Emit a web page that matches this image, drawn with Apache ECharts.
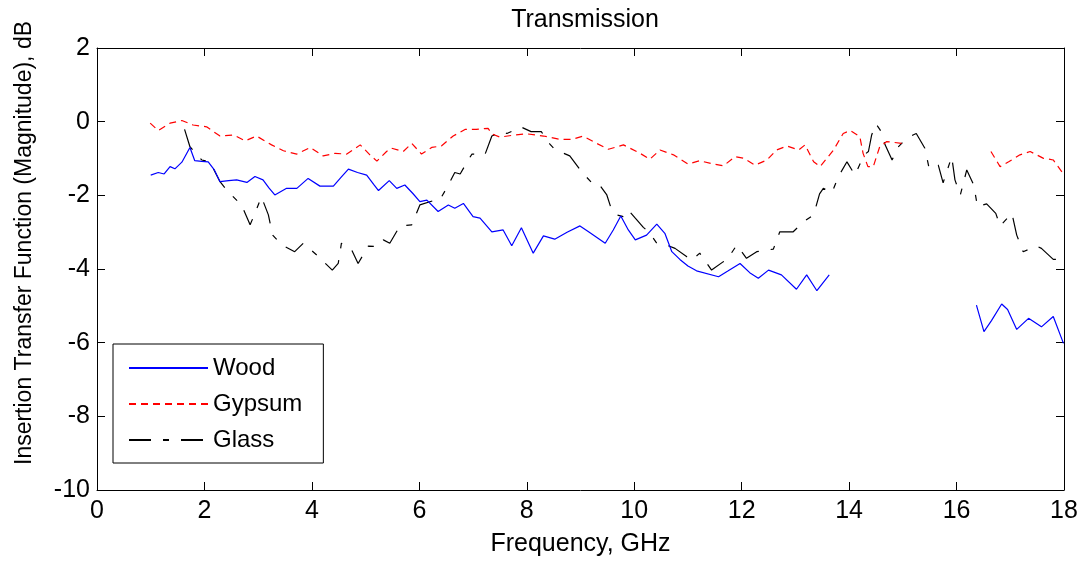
<!DOCTYPE html>
<html>
<head>
<meta charset="utf-8">
<script src="https://cdn.jsdelivr.net/npm/echarts@6/dist/echarts.min.js"></script>
<style>
  html, body { margin: 0; padding: 0; background: #fff; }
  #chart { width: 1088px; height: 567px; }
</style>
</head>
<body>
<div id="chart"></div>
<script>
// Insertion transfer function magnitude (dB) vs frequency (GHz)
const xTicks = [0, 2, 4, 6, 8, 10, 12, 14, 16, 18];
const yTicks = [-10, -8, -6, -4, -2, 0, 2];

const woodPoints = [
  [1.00,-1.45],[1.14,-1.38],[1.25,-1.42],[1.36,-1.22],[1.45,-1.28],[1.58,-1.10],[1.73,-0.70],[1.82,-1.06],
  [1.95,-1.08],[2.07,-1.09],[2.18,-1.30],[2.29,-1.63],[2.45,-1.60],[2.60,-1.58],[2.79,-1.65],[2.94,-1.49],
  [3.09,-1.58],[3.20,-1.80],[3.31,-1.99],[3.53,-1.81],[3.72,-1.81],[3.93,-1.54],[4.15,-1.75],[4.40,-1.75],
  [4.55,-1.50],[4.68,-1.29],[4.85,-1.38],[5.02,-1.45],[5.15,-1.70],[5.24,-1.87],[5.44,-1.60],[5.58,-1.81],
  [5.73,-1.72],[5.88,-1.95],[6.01,-2.17],[6.14,-2.13],[6.35,-2.44],[6.54,-2.26],[6.66,-2.35],[6.82,-2.22],
  [7.00,-2.58],[7.13,-2.62],[7.35,-2.99],[7.56,-2.94],[7.72,-3.37],[7.90,-2.88],[8.12,-3.57],[8.31,-3.10],
  [8.52,-3.19],[8.75,-3.00],[8.99,-2.83],[9.15,-2.99],[9.46,-3.30],[9.61,-2.94],[9.75,-2.56],[9.89,-2.94],
  [10.02,-3.21],[10.23,-3.08],[10.42,-2.78],[10.57,-3.03],[10.70,-3.53],[10.85,-3.74],[11.00,-3.92],[11.16,-4.05],
  [11.57,-4.21],[11.75,-4.05],[11.97,-3.85],[12.15,-4.10],[12.31,-4.25],[12.50,-4.03],[12.74,-4.16],[13.02,-4.55],
  [13.21,-4.16],[13.40,-4.59],[13.63,-4.16],
  [15.00,'-'],
  [16.37,-4.98],[16.51,-5.70],[16.65,-5.40],[16.84,-4.95],[16.95,-5.10],[17.12,-5.64],[17.34,-5.34],[17.58,-5.57],
  [17.80,-5.29],[17.99,-6.02]
];

const gypsumPoints = [
  [0.99,-0.04],[1.14,-0.24],[1.36,-0.04],[1.58,0.03],[1.79,-0.09],[2.04,-0.14],[2.29,-0.39],[2.54,-0.36],
  [2.76,-0.52],[2.97,-0.39],[3.25,-0.63],[3.47,-0.79],[3.72,-0.88],[3.97,-0.70],[4.21,-0.93],[4.43,-0.86],
  [4.65,-0.88],[4.90,-0.63],[5.08,-0.90],[5.21,-1.07],[5.39,-0.81],[5.48,-0.72],[5.70,-0.81],[5.86,-0.59],
  [6.04,-0.88],[6.23,-0.70],[6.41,-0.66],[6.63,-0.39],[6.85,-0.21],[7.06,-0.21],[7.28,-0.18],[7.35,-0.33],
  [7.50,-0.42],[7.78,-0.36],[8.00,-0.33],[8.31,-0.39],[8.62,-0.48],[8.84,-0.48],[9.05,-0.39],[9.30,-0.59],
  [9.52,-0.75],[9.80,-0.63],[10.11,-0.86],[10.29,-1.02],[10.48,-0.77],[10.73,-0.90],[11.00,-1.15],[11.22,-1.06],
  [11.47,-1.15],[11.66,-1.20],[11.88,-0.95],[12.03,-0.99],[12.25,-1.18],[12.47,-1.04],[12.65,-0.77],[12.84,-0.66],
  [13.06,-0.77],[13.18,-0.63],[13.34,-1.09],[13.46,-1.22],[13.71,-0.77],[13.89,-0.32],[14.02,-0.24],[14.20,-0.41],
  [14.26,-0.86],[14.35,-1.22],[14.45,-1.22],[14.57,-0.68],[14.70,-0.54],[14.98,-0.59],
  [15.80,'-'],
  [16.64,-0.81],[16.81,-1.22],[16.97,-1.09],[17.18,-0.90],[17.37,-0.81],[17.61,-0.99],[17.80,-1.04],[17.99,-1.42]
];

const glassPoints = [
  [1.63,-0.21],[1.73,-0.68],[1.95,-1.04],[2.10,-1.09],[2.29,-1.63],[2.44,-1.90],[2.69,-2.26],[2.85,-2.80],
  [2.94,-2.49],[3.06,-2.04],[3.19,-2.53],[3.27,-3.08],[3.44,-3.35],[3.68,-3.53],[3.84,-3.30],[4.09,-3.62],
  [4.38,-4.03],[4.49,-3.85],[4.55,-3.30],[4.74,-3.48],[4.86,-3.85],[5.05,-3.38],[5.21,-3.39],[5.33,-3.21],
  [5.45,-3.30],[5.64,-2.83],[5.86,-2.80],[6.01,-2.26],[6.29,-2.13],[6.38,-2.13],[6.54,-1.72],[6.66,-1.38],
  [6.76,-1.42],[6.91,-1.04],[6.98,-0.88],[7.22,-0.90],[7.35,-0.39],[7.53,-0.27],[7.63,-0.32],[7.90,-0.15],
  [8.08,-0.27],[8.27,-0.27],[8.43,-0.61],[8.52,-0.75],[8.80,-0.93],[9.02,-1.36],[9.21,-1.66],[9.33,-1.67],
  [9.49,-1.99],[9.58,-2.40],[9.67,-2.53],[9.80,-2.58],[9.89,-2.40],[10.02,-2.62],[10.17,-2.87],[10.28,-3.01],
  [10.42,-3.30],[10.60,-3.35],[10.76,-3.44],[10.98,-3.67],[11.07,-3.76],[11.22,-3.57],[11.44,-4.03],[11.66,-3.80],
  [11.72,-3.76],[11.91,-3.35],[12.09,-3.71],[12.28,-3.53],[12.59,-3.46],[12.71,-2.99],[12.96,-2.99],[13.15,-2.72],
  [13.34,-2.53],[13.45,-1.96],[13.52,-1.81],[13.68,-1.93],[13.80,-1.49],[13.96,-1.09],[14.11,-1.45],[14.28,-0.90],
  [14.36,-0.81],[14.42,-0.36],[14.50,-0.06],[14.58,-0.23],[14.67,-0.63],[14.80,-1.04],[14.92,-0.68],[15.01,-0.54],
  [15.19,-0.36],[15.25,-0.32],[15.41,-0.72],[15.49,-1.27],[15.66,-1.18],[15.75,-1.66],[15.91,-0.95],[15.97,-1.58],
  [16.07,-1.99],[16.19,-1.31],[16.32,-1.72],[16.39,-2.31],[16.56,-2.23],[16.73,-2.49],[16.81,-2.83],[17.03,-2.49],
  [17.12,-3.08],[17.24,-3.53],[17.49,-3.38],[17.58,-3.44],[17.80,-3.74],[17.93,-3.74],[18.00,-3.57]
];

const FONT = 'Liberation Sans, Arial, Helvetica, sans-serif';

const chart = echarts.init(document.getElementById('chart'), null, { renderer: 'canvas' });

const xMin = xTicks[0], xMax = xTicks[xTicks.length - 1], xStep = xTicks[1] - xTicks[0];
const yMin = yTicks[0], yMax = yTicks[yTicks.length - 1], yStep = yTicks[1] - yTicks[0];

const boxAxisLine = { show: true, onZero: false, lineStyle: { color: '#000', width: 1 } };
const innerTicks = { show: true, inside: true, length: 8, lineStyle: { color: '#000', width: 1 } };

chart.setOption({
  backgroundColor: '#fff',
  animation: false,
  title: {
    text: 'Transmission',
    left: 580,
    textAlign: 'center',
    top: 3,
    textStyle: { fontFamily: FONT, fontSize: 25, fontWeight: 'normal', color: '#000' }
  },
  grid: { left: 97, right: 24, top: 48, bottom: 77, containLabel: false },
  legend: {
    orient: 'vertical',
    left: 113,
    top: 344,
    backgroundColor: '#fff',
    borderColor: '#000',
    borderWidth: 1,
    borderRadius: 0,
    padding: [12, 21, 11, 15],
    itemWidth: 79,
    itemHeight: 20,
    itemGap: 12,
    itemTextGap: 8,
    itemStyle: { opacity: 0 },
    textStyle: { fontFamily: FONT, fontSize: 24, color: '#000', lineHeight: 20 },
    data: ['Wood', 'Gypsum', 'Glass']
  },
  xAxis: [
    {
      type: 'value',
      min: xMin, max: xMax, interval: xStep,
      name: 'Frequency, GHz',
      nameLocation: 'middle',
      nameGap: 42,
      nameTextStyle: { fontFamily: FONT, fontSize: 25, color: '#000' },
      axisLine: boxAxisLine,
      axisTick: innerTicks,
      axisLabel: { margin: 9, fontFamily: FONT, fontSize: 25, color: '#000' },
      splitLine: { show: false }
    },
    {
      type: 'value',
      position: 'top',
      min: xMin, max: xMax, interval: xStep,
      axisLine: boxAxisLine,
      axisTick: innerTicks,
      axisLabel: { show: false },
      splitLine: { show: false }
    }
  ],
  yAxis: [
    {
      type: 'value',
      min: yMin, max: yMax, interval: yStep,
      name: 'Insertion Transfer Function (Magnitude), dB',
      nameLocation: 'middle',
      nameGap: 61,
      nameTextStyle: { fontFamily: FONT, fontSize: 23, color: '#000', padding: [0, 0, 0, 52] },
      axisLine: boxAxisLine,
      axisTick: innerTicks,
      axisLabel: { margin: 7, fontFamily: FONT, fontSize: 25, color: '#000' },
      splitLine: { show: false }
    },
    {
      type: 'value',
      position: 'right',
      min: yMin, max: yMax, interval: yStep,
      axisLine: boxAxisLine,
      axisTick: innerTicks,
      axisLabel: { show: false },
      splitLine: { show: false }
    }
  ],
  series: [
    {
      name: 'Wood',
      type: 'line',
      data: woodPoints,
      symbol: 'none',
      connectNulls: false,
      lineStyle: { color: '#0000ff', width: 1.2, type: 'solid' },
      itemStyle: { color: '#0000ff' },
      z: 3
    },
    {
      name: 'Gypsum',
      type: 'line',
      data: gypsumPoints,
      symbol: 'none',
      connectNulls: false,
      lineStyle: { color: '#ff0000', width: 1.2, type: [7, 5] },
      itemStyle: { color: '#ff0000' },
      z: 2
    },
    {
      name: 'Glass',
      type: 'line',
      data: glassPoints,
      symbol: 'none',
      connectNulls: false,
      lineStyle: { color: '#000000', width: 1.2, type: [22, 12, 6, 12] },
      itemStyle: { color: '#000000' },
      z: 1
    }
  ]
});
</script>
</body>
</html>
